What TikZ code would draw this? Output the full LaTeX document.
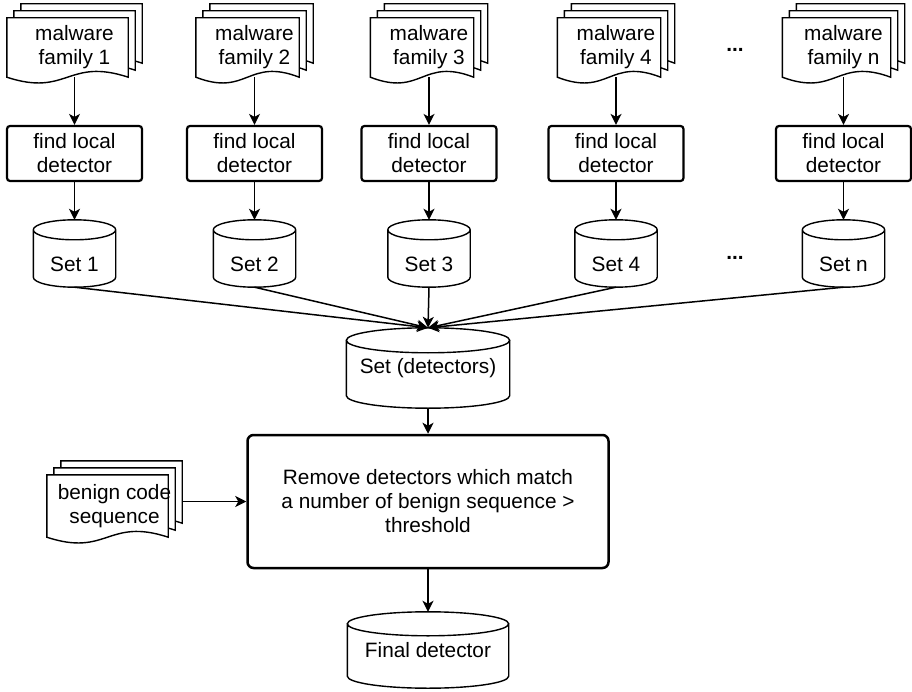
\documentclass[tikz,border=0pt]{standalone}
\usepackage{fontspec}
\setmainfont{Liberation Sans}
\usetikzlibrary{calc,arrows.meta,backgrounds}

\tikzset{
  every node/.style={font=\fontsize{20.8pt}{24pt}\selectfont},
  doc/.style={minimum height=59pt, inner sep=0pt, align=center},
  findbox/.style={draw, line width=2.2pt, rounded corners=3pt, minimum width=135pt, minimum height=55pt, inner sep=0pt, align=center},
  db/.style={inner sep=0pt, align=center},
  lowlabel/.style={text height=37pt, text depth=0pt},
  arr/.style={line width=1.5pt, -{Stealth[length=11pt,width=11pt,inset=3pt]}}
}

\newcommand{\docpage}[2]{%
  \filldraw[fill=white, line width=1.4pt] let \p1=(#1.north west), \p2=(#1.south east) in
    ({\x1+#2pt},{\y1+#2pt}) -- ({\x2-14pt+#2pt},{\y1+#2pt}) -- ({\x2-14pt+#2pt},{\y2+#2pt})
    .. controls ({(\x1+\x2-14pt)/2+#2pt},{\y2+#2pt+20pt}) and ({(\x1+\x2-14pt)/2+#2pt},{\y2+#2pt-20pt}) .. ({\x1+#2pt},{\y2+#2pt}) -- cycle;}
\newcommand{\docstack}[1]{\docpage{#1}{14}\docpage{#1}{7}\docpage{#1}{0}}
\newcommand{\dbshape}[2]{%
  \draw[line width=1.4pt] let \p1=(#1.north west), \p2=(#1.south east) in
    (\x1,{\y1-#2pt}) -- (\x1,{\y2+#2pt}) arc[start angle=180, end angle=360, x radius={(\x2-\x1)/2}, y radius=#2pt] -- (\x2,{\y1-#2pt})
    ({(\x1+\x2)/2},{\y1-#2pt}) ellipse[x radius={(\x2-\x1)/2}, y radius=#2pt];}

\begin{document}
\begin{tikzpicture}[x=1pt,y=1pt]
\useasboundingbox (0,0) rectangle (912,-692);

\node[doc, minimum width=135pt] (fam1) at (74.5,-47.5) {malware\\family 1};
\node[doc, minimum width=117pt] (fam2) at (254.5,-47.5) {malware\\family 2};
\node[doc, minimum width=117pt] (fam3) at (429,-47.5) {malware\\family 3};
\node[doc, minimum width=117pt] (fam4) at (616,-47.5) {malware\\family 4};
\node[doc, minimum width=122pt] (famn) at (843.5,-47.5) {malware\\family n};

\node[findbox] (det1) at (74.5,-153.5) {find local\\detector};
\node[findbox] (det2) at (254.5,-153.5) {find local\\detector};
\node[findbox] (det3) at (429,-153.5) {find local\\detector};
\node[findbox] (det4) at (616,-153.5) {find local\\detector};
\node[findbox] (detn) at (843.5,-153.5) {find local\\detector};

\node[db, lowlabel, minimum width=82pt, minimum height=67pt] (set1) at (74.5,-253.5) {Set 1};
\node[db, lowlabel, minimum width=82pt, minimum height=67pt] (set2) at (254.5,-253.5) {Set 2};
\node[db, lowlabel, minimum width=82pt, minimum height=67pt] (set3) at (429,-253.5) {Set 3};
\node[db, lowlabel, minimum width=82pt, minimum height=67pt] (set4) at (616,-253.5) {Set 4};
\node[db, lowlabel, minimum width=82pt, minimum height=67pt] (setn) at (843.5,-253.5) {Set n};

\node (dots1) at (735,-50) {\textbf{...}};
\node (dots2) at (735,-258) {\textbf{...}};

\node[db, minimum width=163pt, minimum height=80pt] (alldet) at (428,-368) {Set (detectors)};
\node[draw, line width=2.5pt, rounded corners=6pt, minimum width=361pt, minimum height=133pt, align=center] (remove) at (428,-501.5)
  {Remove detectors which match\\a number of benign sequence >\\threshold};
\node[doc, minimum width=135pt, minimum height=62pt] (benign) at (114.5,-506) {benign code\\sequence};
\node[db, minimum width=161pt, minimum height=76pt] (final) at (428,-650) {Final detector};

\begin{scope}[on background layer]
\docstack{fam1}
\docstack{fam2}
\docstack{fam3}
\docstack{fam4}
\docstack{famn}
\docstack{benign}
\end{scope}

\dbshape{set1}{10}
\dbshape{set2}{10}
\dbshape{set3}{10}
\dbshape{set4}{10}
\dbshape{setn}{10}
\dbshape{alldet}{12.5}
\dbshape{final}{12}

\draw[arr] (fam1.south) -- (det1.north);
\draw[arr] (fam2.south) -- (det2.north);
\draw[arr] (fam3.south) -- (det3.north);
\draw[arr] (fam4.south) -- (det4.north);
\draw[arr] (famn.south) -- (detn.north);

\draw[arr] (det1.south) -- (set1.north);
\draw[arr] (det2.south) -- (set2.north);
\draw[arr] (det3.south) -- (set3.north);
\draw[arr] (det4.south) -- (set4.north);
\draw[arr] (detn.south) -- (setn.north);

\draw[arr] (set1.south) -- (alldet.north);
\draw[arr] (set2.south) -- (alldet.north);
\draw[arr] (set3.south) -- (alldet.north);
\draw[arr] (set4.south) -- (alldet.north);
\draw[arr] (setn.south) -- (alldet.north);

\draw[arr] (alldet.south) -- (remove.north);
\draw[arr] (benign.east |- remove.west) -- (remove.west);
\draw[arr] (remove.south) -- (final.north);
\end{tikzpicture}
\end{document}
